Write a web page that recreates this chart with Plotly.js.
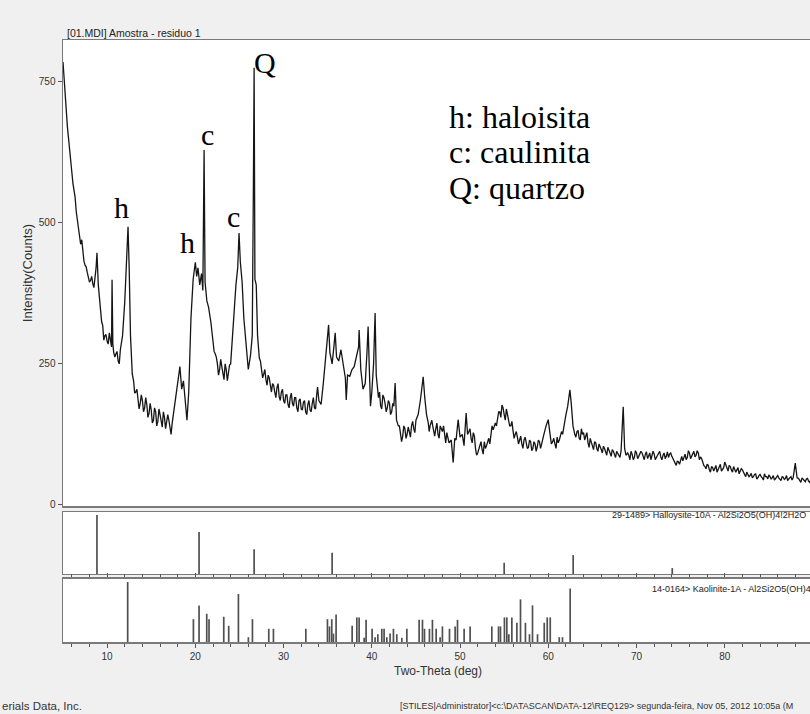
<!DOCTYPE html>
<html>
<head>
<meta charset="utf-8">
<script src="https://cdn.plot.ly/plotly-3.0.1.min.js"></script>
<style>
  html, body { margin: 0; padding: 0; background: #f0f0f0; overflow: hidden; }
  #chart { width: 830px; height: 714px; }
</style>
</head>
<body>
<div id="chart"></div>
<script>
// ---- XRD pattern ----
const twoTheta = [
  5.00,5.10,5.25,5.50,5.75,6.00,6.25,6.50,6.75,7.00,
  7.25,7.50,7.75,8.00,8.25,8.50,8.75,8.85,9.00,9.25,
  9.50,9.75,10.00,10.25,10.50,10.56,10.65,10.75,11.00,11.25,
  11.50,11.75,12.00,12.20,12.37,12.50,12.65,12.85,13.00,13.25,
  13.50,13.75,14.00,14.25,14.50,14.75,15.00,15.25,15.50,15.75,
  16.00,16.25,16.50,16.75,17.00,17.25,17.50,17.75,18.00,18.25,
  18.45,18.65,18.85,19.05,19.25,19.50,19.75,20.00,20.15,20.30,
  20.50,20.70,20.85,20.99,21.10,21.30,21.50,21.75,22.00,22.25,
  22.50,22.75,23.00,23.25,23.50,23.75,24.00,24.20,24.40,24.60,
  24.80,24.95,25.10,25.30,25.50,25.75,26.00,26.25,26.45,26.58,
  26.66,26.75,26.90,27.05,27.25,27.50,27.75,28.00,28.25,28.50,
  28.75,29.00,29.25,29.50,29.75,30.00,30.25,30.50,30.75,31.00,
  31.25,31.50,31.75,32.00,32.25,32.50,32.75,33.00,33.25,33.50,
  33.75,33.85,34.00,34.25,34.50,34.75,34.95,35.10,35.25,35.50,
  35.70,35.85,36.00,36.25,36.50,36.75,37.00,37.10,37.25,37.50,
  37.75,38.00,38.25,38.50,38.56,38.75,39.00,39.25,39.45,39.58,
  39.70,39.85,40.00,40.20,40.37,40.50,40.75,41.00,41.25,41.50,
  41.75,42.00,42.25,42.50,42.64,42.80,43.00,43.25,43.50,43.75,
  44.00,44.25,44.50,44.75,45.00,45.25,45.50,45.82,46.00,46.20,
  46.40,46.60,46.80,47.00,47.25,47.50,47.75,48.00,48.25,48.50,
  48.75,49.00,49.22,49.40,49.55,49.78,50.00,50.25,50.45,50.69,
  50.85,51.00,51.25,51.50,51.75,52.00,52.25,52.50,52.75,53.00,
  53.25,53.50,53.75,54.00,54.25,54.50,54.75,55.00,55.25,55.50,
  55.75,56.00,56.25,56.50,56.75,57.00,57.25,57.50,57.75,58.00,
  58.25,58.50,58.75,59.00,59.25,59.50,59.75,59.99,60.20,60.50,
  60.75,61.00,61.25,61.50,61.75,62.00,62.20,62.45,62.60,62.80,
  63.00,63.25,63.50,63.75,64.00,64.25,64.50,64.75,65.00,65.25,
  65.50,65.75,66.00,66.25,66.50,66.75,67.00,67.25,67.50,67.75,
  68.00,68.25,68.49,68.65,68.80,69.00,69.25,69.50,69.75,70.00,
  70.25,70.50,70.75,71.00,71.25,71.50,71.75,72.00,72.25,72.50,
  72.75,73.00,73.25,73.50,73.75,74.00,74.25,74.50,74.75,75.00,
  75.25,75.50,75.75,76.00,76.25,76.50,76.75,77.00,77.25,77.50,
  77.75,78.00,78.25,78.50,78.75,79.00,79.25,79.50,79.75,80.00,
  80.25,80.50,80.75,81.00,81.25,81.50,81.75,82.00,82.25,82.50,
  82.75,83.00,83.25,83.50,83.75,84.00,84.25,84.50,84.75,85.00,
  85.25,85.50,85.75,86.00,86.25,86.50,86.75,87.00,87.25,87.50,
  87.75,87.99,88.20,88.50,88.75,89.00,89.25,89.50,89.75,90.00
];
const counts = [
  785,760,735,670,625,590,560,520,495,462,
  450,425,412,395,405,385,420,447,390,335,
  318,300,290,305,280,399,285,270,268,255,
  275,300,360,440,493,420,300,232,220,200,
  188,180,185,172,178,162,168,150,165,148,
  160,138,155,145,150,125,160,190,215,245,
  205,220,185,150,200,330,400,430,405,420,
  390,410,380,629,395,362,350,325,290,268,
  250,240,245,222,240,232,250,300,355,390,
  420,482,430,395,330,280,240,265,300,570,
  775,400,390,300,260,240,232,222,230,212,
  215,200,208,192,200,185,195,178,190,180,
  190,172,185,170,182,165,178,168,180,172,
  195,209,185,178,215,262,290,319,270,250,
  280,305,262,255,275,245,225,186,230,228,
  240,245,260,280,310,240,205,215,270,316,
  250,175,200,250,340,230,190,175,195,180,
  172,180,165,175,216,150,140,128,122,135,
  125,130,140,135,150,160,185,227,190,160,
  145,140,150,130,135,125,140,130,118,128,
  110,115,75,118,115,151,120,125,105,163,
  125,130,118,128,100,92,108,98,112,105,
  118,125,133,145,155,165,177,160,170,150,
  140,132,125,120,115,108,115,110,102,112,
  100,108,103,112,108,125,140,151,125,112,
  108,120,115,130,140,160,175,204,180,140,
  125,130,118,135,128,122,110,118,105,112,
  100,108,98,104,95,102,92,98,90,95,
  88,96,174,100,88,92,80,90,84,92,
  86,95,85,90,82,92,86,90,84,92,
  85,88,82,94,90,86,78,70,76,82,
  78,90,84,92,86,95,88,92,85,75,
  68,72,62,68,60,70,62,72,64,76,
  65,70,62,68,58,66,60,62,54,58,
  50,56,50,55,48,54,48,55,50,53,
  46,52,47,52,46,50,45,52,46,50,
  48,74,48,42,48,44,46,42,45,44
];
// extra readings between the points above (the noise band of the trace)
const twoThetaNoise = [
  5.625,5.875,6.125,6.375,6.625,6.875,7.125,7.375,7.625,7.875,8.125,8.375,
  9.375,9.625,9.875,10.125,10.375,10.875,11.125,11.375,
  13.125,13.375,13.625,13.875,14.125,14.375,14.625,14.875,15.125,15.375,
  15.625,15.875,16.125,16.375,16.625,16.875,17.125,17.375,
  22.125,22.375,22.625,22.875,23.125,23.375,23.625,23.875,
  27.375,27.625,27.875,28.125,28.375,28.625,28.875,29.125,29.375,29.625,
  29.875,30.125,30.375,30.625,30.875,31.125,31.375,31.625,31.875,32.125,
  32.375,32.625,32.875,33.125,33.375,33.625,
  40.875,41.125,41.375,41.625,41.875,42.125,42.375,43.125,43.375,43.625,
  43.875,44.125,44.375,44.625,44.875,
  46.50,46.90,47.125,47.375,47.625,47.875,48.125,48.375,48.625,
  51.125,51.375,51.625,51.875,52.125,52.375,52.625,52.875,53.125,53.375,53.625,
  54.125,54.375,54.625,54.875,55.125,55.375,55.625,55.875,
  56.125,56.375,56.625,56.875,57.125,57.375,57.625,57.875,58.125,58.375,
  58.625,58.875,59.125,59.375,
  60.35,60.625,60.875,61.125,61.375,61.625,
  63.125,63.375,63.625,63.875,64.125,64.375,64.625,64.875,65.125,65.375,
  65.625,65.875,66.125,66.375,66.625,66.875,67.125,67.375,67.625,67.875,68.125,
  69.125,69.375,69.625,69.875,70.125,70.375,70.625,70.875,71.125,71.375,
  71.625,71.875,72.125,72.375,72.625,72.875,73.125,73.375,73.625,73.875,
  74.125,74.375,74.625,74.875,75.125,75.375,75.625,75.875,76.125,76.375,
  76.625,76.875,77.125,77.375,77.625,
  77.875,78.125,78.375,78.625,78.875,79.125,79.375,79.625,79.875,80.125,
  80.375,80.625,80.875,81.125,81.375,81.625,81.875,82.125,82.375,82.625,
  82.875,83.125,83.375,83.625,83.875,84.125,84.375,84.625,84.875,85.125,
  85.375,85.625,85.875,86.125,86.375,86.625,86.875,87.125,87.375,87.625,
  88.35,88.625,88.875,89.125,89.375,89.625,89.875
];
const countsNoise = [
  650,610,570,545,505,485,470,432,422,400,398,392,
  325,292,302,285,292,262,272,250,
  198,205,170,195,165,190,155,180,145,172,
  140,170,150,165,135,160,140,145,
  272,262,230,258,228,250,220,248,
  255,225,240,212,225,200,212,190,215,185,
  205,180,195,172,198,175,190,165,188,168,
  185,160,185,165,190,170,
  200,170,190,165,185,160,180,140,112,140,
  118,138,120,148,128,
  130,140,122,145,118,135,140,110,120,
  135,110,122,88,100,112,90,100,112,108,140,
  140,165,155,172,150,158,140,148,
  118,130,108,122,100,120,100,115,96,112,
  95,115,100,118,
  108,118,100,110,122,125,
  120,132,115,125,115,128,102,112,98,110,
  95,104,92,100,88,98,86,95,84,92,84,
  88,95,80,96,82,90,92,80,94,88,
  80,95,80,88,95,80,92,86,84,92,
  82,72,78,72,86,84,80,96,82,90,
  85,96,80,82,70,
  64,70,58,66,64,58,68,60,66,70,
  60,68,58,64,62,55,64,58,50,55,
  52,48,54,46,52,50,44,50,46,50,
  48,44,50,48,43,49,47,43,49,44,
  47,40,46,41,47,40,46
];

// ---- Reference patterns (stick positions, relative intensities) ----
const halloysitePos = [8.85, 20.42, 26.66, 35.50, 55.00, 62.82, 74.05];
const halloysiteInt = [100, 71, 42, 36, 19, 32, 10];

const kaolinitePos = [
  12.33,19.78,20.42,21.29,21.55,23.22,23.78,24.88,26.01,26.47,
  28.32,28.85,32.52,34.97,35.20,35.46,35.65,35.95,37.77,38.30,
  38.56,39.13,39.35,40.03,40.37,40.68,41.13,41.39,41.70,42.07,
  42.45,42.83,43.40,43.97,45.36,45.74,45.97,46.53,46.87,47.29,
  47.74,48.00,48.80,49.44,49.71,50.46,51.14,53.60,54.36,54.58,
  55.03,55.30,55.53,55.87,56.44,56.85,57.41,57.87,58.21,58.78,
  59.54,59.88,60.22,61.24,61.61,62.48
];
const kaoliniteInt = [
  100,38,61,47,38,42,27,80,8,38,
  22,22,22,38,26,38,14,46,27,41,
  41,7,37,22,8,13,22,22,8,14,
  22,13,7,22,37,37,22,22,37,22,
  8,26,22,26,37,22,26,26,26,26,
  41,41,13,41,32,71,32,13,61,13,
  32,41,41,8,8,89
];

// ---- Axis ticks ----
const xTickVals = [10, 20, 30, 40, 50, 60, 70, 80];
const xTickText = ["10", "20", "30", "40", "50", "60", "70", "80"];
const yTickVals = [0, 250, 500, 750];
const yTickText = ["0", "250", "500", "750"];

// ---- Labels ----
const peakLabels = [
  {t: "h", x: 11.58, y: 527},
  {t: "h", x: 19.06, y: 465},
  {t: "c", x: 21.33, y: 656},
  {t: "c", x: 24.27, y: 512},
  {t: "Q", x: 27.90, y: 785}
];
const legendLines = [
  {t: "h: haloisita", y: 688},
  {t: "c: caulinita", y: 626},
  {t: "Q: quartzo", y: 562}
];

// merge the two sets of readings in angle order
const merged = twoTheta.map((t, i) => [t, counts[i]])
  .concat(twoThetaNoise.map((t, i) => [t, countsNoise[i]]))
  .sort((a, b) => a[0] - b[0]);
const xrdX = merged.map(p => p[0]);
const xrdY = merged.map(p => p[1]);

function sticks(pos, inten) {
  const xs = [], ys = [];
  for (let i = 0; i < pos.length; i++) {
    xs.push(pos[i], pos[i], null);
    ys.push(0, inten[i], null);
  }
  return {xs, ys};
}
const hs = sticks(halloysitePos, halloysiteInt);
const ks = sticks(kaolinitePos, kaoliniteInt);

const sans = "Liberation Sans, Arial, sans-serif";
const serif = "Liberation Serif, Times New Roman, serif";
const frame = "#7a7a7a";

const traces = [
  {x: xrdX, y: xrdY, type: "scatter", mode: "lines", xaxis: "x", yaxis: "y",
   line: {color: "#151515", width: 1.3}, hoverinfo: "skip"},
  {x: hs.xs, y: hs.ys, type: "scatter", mode: "lines", xaxis: "x", yaxis: "y2",
   line: {color: "#505050", width: 1.7}, hoverinfo: "skip", connectgaps: false},
  {x: ks.xs, y: ks.ys, type: "scatter", mode: "lines", xaxis: "x", yaxis: "y3",
   line: {color: "#505050", width: 1.7}, hoverinfo: "skip", connectgaps: false}
];

const annotations = [];
peakLabels.forEach(p => annotations.push({
  x: p.x, y: p.y, xref: "x", yref: "y", text: p.t, showarrow: false,
  xanchor: "center", yanchor: "middle", font: {family: serif, size: 30, color: "#000"}
}));
legendLines.forEach(l => annotations.push({
  x: 48.54, y: l.y, xref: "x", yref: "y", text: l.t, showarrow: false,
  xanchor: "left", yanchor: "middle", font: {family: serif, size: 32, color: "#000"}
}));
annotations.push(
  {x: 0.002, y: 1, xref: "paper", yref: "paper", xanchor: "left", yanchor: "bottom",
   text: "[01.MDI] Amostra - residuo 1", showarrow: false, yshift: -1,
   font: {family: sans, size: 10.5, color: "#222"}},
  {x: 67.0, y: 100, xref: "x", yref: "y2", xanchor: "left", yanchor: "middle",
   text: "29-1489&gt; Halloysite-10A - Al2Si2O5(OH)4!2H2O", showarrow: false,
   font: {family: sans, size: 9, color: "#222"}},
  {x: 71.55, y: 88, xref: "x", yref: "y3", xanchor: "left", yanchor: "middle",
   text: "14-0164&gt; Kaolinite-1A - Al2Si2O5(OH)4", showarrow: false,
   font: {family: sans, size: 9, color: "#222"}},
  {x: -0.084, y: -0.1063, xref: "paper", yref: "paper", xanchor: "left", yanchor: "middle",
   text: "erials Data, Inc.", showarrow: false,
   font: {family: sans, size: 11.5, color: "#333"}},
  {x: 0.447, y: -0.1063, xref: "paper", yref: "paper", xanchor: "left", yanchor: "middle",
   text: "[STILES|Administrator]&lt;c:\\DATASCAN\\DATA-12\\REQ129&gt; segunda-feira, Nov 05, 2012 10:05a (M",
   showarrow: false, font: {family: sans, size: 9, color: "#333"}}
);

const layout = {
  width: 830, height: 714,
  margin: {l: 63, r: 17, t: 40, b: 72},
  paper_bgcolor: "#f0f0f0", plot_bgcolor: "#ffffff",
  showlegend: false, hovermode: false,
  font: {family: sans, color: "#333"},
  xaxis: {
    range: [5, 90], anchor: "y3", domain: [0, 1],
    showline: true, linecolor: frame, linewidth: 1.5, mirror: "all",
    showgrid: false, zeroline: false,
    tickmode: "array", tickvals: xTickVals, ticktext: xTickText,
    ticks: "outside", ticklen: 4, tickcolor: "#555", tickwidth: 1,
    tickfont: {family: sans, size: 10, color: "#333"},
    minor: {tickmode: "linear", tick0: 0, dtick: 2, ticks: "outside", ticklen: 3, tickcolor: "#555", showgrid: false},
    title: {text: "Two-Theta (deg)", font: {family: sans, size: 12, color: "#333"}, standoff: 6}
  },
  yaxis: {
    domain: [0.2259, 1], range: [-2, 824], anchor: "x",
    showline: true, linecolor: frame, linewidth: 1.5, mirror: true,
    showgrid: false, zeroline: false,
    tickmode: "array", tickvals: yTickVals, ticktext: yTickText,
    ticks: "outside", ticklen: 4, tickcolor: "#555",
    tickfont: {family: sans, size: 10, color: "#333"},
    title: {text: "Intensity(Counts)", font: {family: sans, size: 13, color: "#333"}, standoff: 3}
  },
  yaxis2: {
    domain: [0.1130, 0.2159], range: [0, 105], anchor: "x",
    showline: true, linecolor: frame, linewidth: 1.5, mirror: true,
    showgrid: false, zeroline: false, showticklabels: false, ticks: ""
  },
  yaxis3: {
    domain: [0, 0.1047], range: [0, 105], anchor: "x",
    showline: true, linecolor: frame, linewidth: 1.5, mirror: true,
    showgrid: false, zeroline: false, showticklabels: false, ticks: ""
  },
  annotations: annotations
};

Plotly.newPlot("chart", traces, layout, {displayModeBar: false, staticPlot: true});
</script>
</body>
</html>
